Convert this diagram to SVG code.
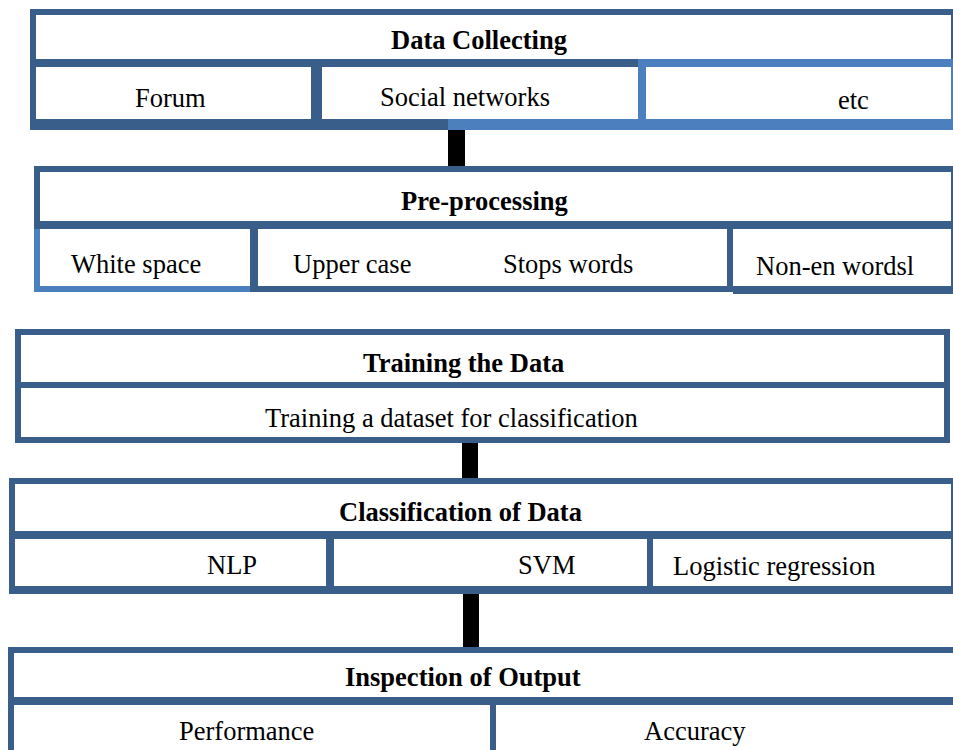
<svg xmlns="http://www.w3.org/2000/svg" width="953" height="750" viewBox="0 0 953 750">
<style>
.d{fill:#3A5E8A}
.l{fill:#4B7FBD}
.c{fill:#000}
text{font-family:"Liberation Serif","Times New Roman",serif;font-size:26.5px;fill:#000}
.b{font-weight:bold}
</style>
<rect x="0" y="0" width="953" height="750" fill="#fff"/>
<g id="data-collecting">
<rect class="d" x="30" y="9" width="923" height="6"/>
<rect class="d" x="30" y="9" width="6" height="121"/>
<rect class="d" x="951" y="9" width="2" height="58"/>
<rect class="d" x="30" y="59" width="616" height="8"/>
<rect class="l" x="646" y="59" width="307" height="8"/>
<rect class="d" x="311" y="59" width="11" height="71"/>
<rect class="l" x="638" y="59" width="8" height="71"/>
<rect class="l" x="951" y="59" width="2" height="71"/>
<rect class="d" x="30" y="119" width="418" height="11"/>
<rect class="l" x="448" y="119" width="505" height="11"/>
<text class="b" x="391" y="49">Data Collecting</text>
<text x="135" y="107">Forum</text>
<text x="380" y="106">Social networks</text>
<text x="838" y="109">etc</text>
</g>
<g id="pre-processing">
<rect class="d" x="34" y="166" width="919" height="6"/>
<rect class="d" x="34" y="166" width="6" height="63"/>
<rect class="d" x="34" y="221" width="919" height="8"/>
<rect class="l" x="34" y="229" width="6" height="63"/>
<rect class="l" x="34" y="286" width="216" height="6"/>
<rect class="d" x="250" y="221" width="8" height="71"/>
<rect class="d" x="258" y="286" width="475" height="6"/>
<rect class="d" x="727" y="221" width="6" height="71"/>
<rect class="d" x="733" y="286" width="220" height="8"/>
<rect class="d" x="951" y="166" width="2" height="128"/>
<text class="b" x="401" y="210">Pre-processing</text>
<text x="71" y="273">White space</text>
<text x="293" y="273">Upper case</text>
<text x="503" y="273">Stops words</text>
<text x="756" y="275">Non-en wordsl</text>
</g>
<g id="training">
<rect class="d" x="15" y="329" width="935" height="6"/>
<rect class="d" x="15" y="329" width="6" height="114"/>
<rect class="d" x="944" y="329" width="6" height="114"/>
<rect class="d" x="15" y="382" width="935" height="6"/>
<rect class="d" x="15" y="437" width="935" height="6"/>
<text class="b" x="363" y="372">Training the Data</text>
<text x="265" y="427">Training a dataset for classification</text>
</g>
<g id="classification">
<rect class="d" x="9" y="478" width="944" height="6"/>
<rect class="d" x="9" y="478" width="6" height="116"/>
<rect class="d" x="9" y="531" width="944" height="8"/>
<rect class="d" x="9" y="586" width="944" height="8"/>
<rect class="d" x="326" y="531" width="8" height="63"/>
<rect class="d" x="647" y="531" width="6" height="63"/>
<rect class="d" x="951" y="478" width="2" height="116"/>
<text class="b" x="339" y="521">Classification of Data</text>
<text x="207" y="574">NLP</text>
<text x="518" y="574">SVM</text>
<text x="673" y="575">Logistic regression</text>
</g>
<g id="inspection">
<rect class="d" x="8" y="647" width="945" height="6"/>
<rect class="d" x="8" y="647" width="6" height="103"/>
<rect class="d" x="8" y="697" width="945" height="8"/>
<rect class="d" x="490" y="697" width="6" height="53"/>
<text class="b" x="345" y="686">Inspection of Output</text>
<text x="179" y="740">Performance</text>
<text x="644" y="740">Accuracy</text>
</g>
<g id="connectors">
<rect class="c" x="448" y="130" width="17" height="36"/>
<rect class="c" x="462" y="443" width="16" height="35"/>
<rect class="c" x="463" y="594" width="16" height="53"/>
</g>
</svg>
